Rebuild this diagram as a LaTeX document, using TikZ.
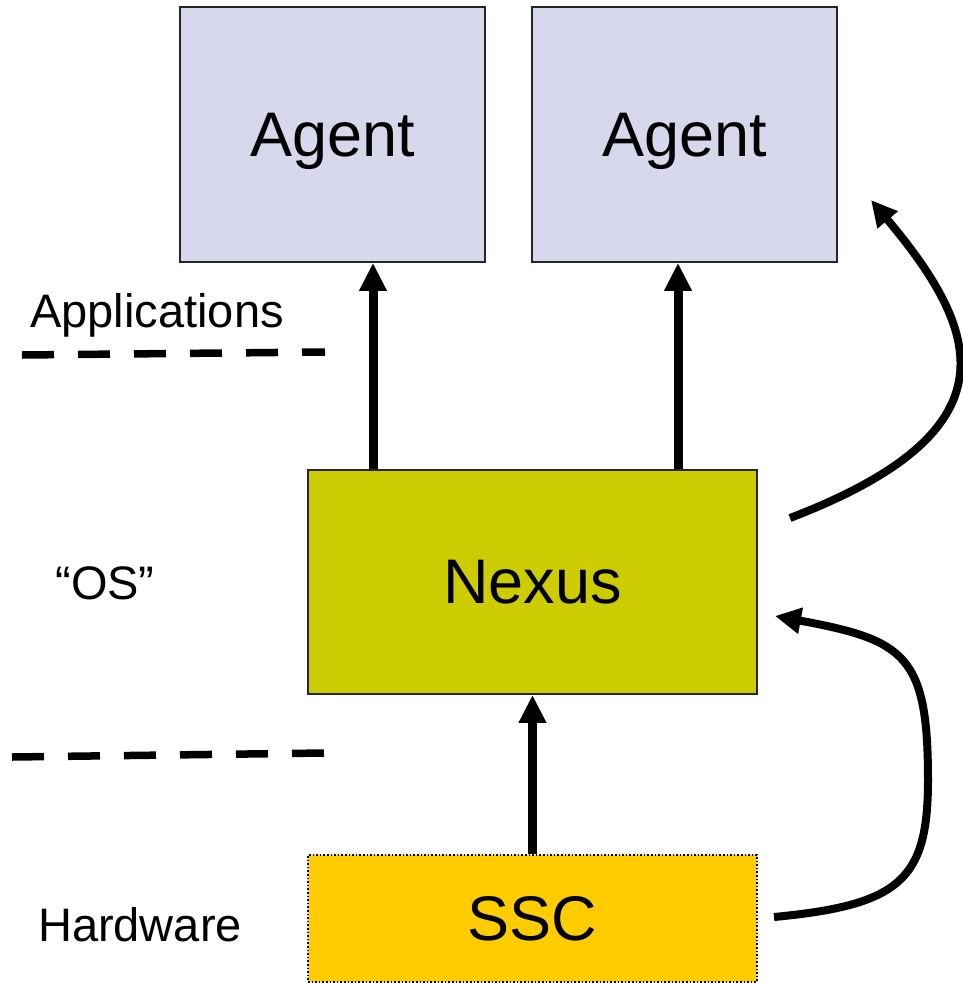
\documentclass[tikz,border=0pt]{standalone}
\usepackage{fontspec}
\setmainfont{Liberation Sans}
\usetikzlibrary{arrows.meta}
\definecolor{agentfill}{HTML}{D7D8EC}
\definecolor{nexusfill}{HTML}{CCCC00}
\definecolor{sscfill}{HTML}{FFCC00}
\begin{document}
\begin{tikzpicture}[x=1pt,y=-1pt,
  bigtext/.style={font=\fontsize{63}{70}\selectfont},
  smalltext/.style={font=\fontsize{47}{54}\selectfont},
  block/.style={draw=black!85,line width=1.8pt,inner sep=0pt,bigtext},
  uparrow/.style={line width=9pt,-{Triangle[width=26pt,length=28pt]}},
  curvearrow/.style={line width=8pt,-{Triangle[width=25pt,length=26pt]}},
  layerline/.style={line width=7.5pt,dash pattern=on 32pt off 24pt}]
\useasboundingbox (0,0) rectangle (962,983);

% application layer
\node[block,fill=agentfill,text depth=0pt,minimum width=305pt,minimum height=255pt] (agent1) at (332.5,134.5) {Agent};
\node[block,fill=agentfill,text depth=0pt,minimum width=305pt,minimum height=255pt] (agent2) at (684.5,134.5) {Agent};

% kernel
\node[block,fill=nexusfill,minimum width=449pt,minimum height=224pt] (nexus) at (532.5,582) {Nexus};

% hardware
\node[draw=black,dotted,line width=1.6pt,fill=sscfill,inner sep=0pt,bigtext,
      minimum width=449pt,minimum height=127pt] (ssc) at (532.5,918.5) {SSC};

% layer labels
\node[smalltext] (lapp) at (157,315) {Applications};
\node[smalltext] (los) at (105,583) {“OS”};
\node[smalltext] (lhw) at (140,925) {Hardware};

% layer separators
\draw[layerline] (22,355) -- (325,352);
\draw[layerline] (12,757) -- (325,753);

% vertical connectors
\coordinate (c1) at (373,0);
\coordinate (c2) at (678,0);
\draw[uparrow] (c1 |- nexus.north) -- (c1 |- agent1.south);
\draw[uparrow] (c2 |- nexus.north) -- (c2 |- agent2.south);
\draw[uparrow] (ssc.north) -- (nexus.south);

% curved connectors on the right
\coordinate (s1) at (790,518);
\coordinate (e1) at (871,200);
\draw[curvearrow] (s1) .. controls (1020,430) and (980,330) .. (e1);
\coordinate (s2) at (774,917);
\coordinate (m2) at (928,780);
\coordinate (e2) at (775,616);
\draw[curvearrow] (s2) .. controls (900,905) and (928,880) .. (m2)
  .. controls (928,655) and (905,640) .. (e2);
\end{tikzpicture}
\end{document}
